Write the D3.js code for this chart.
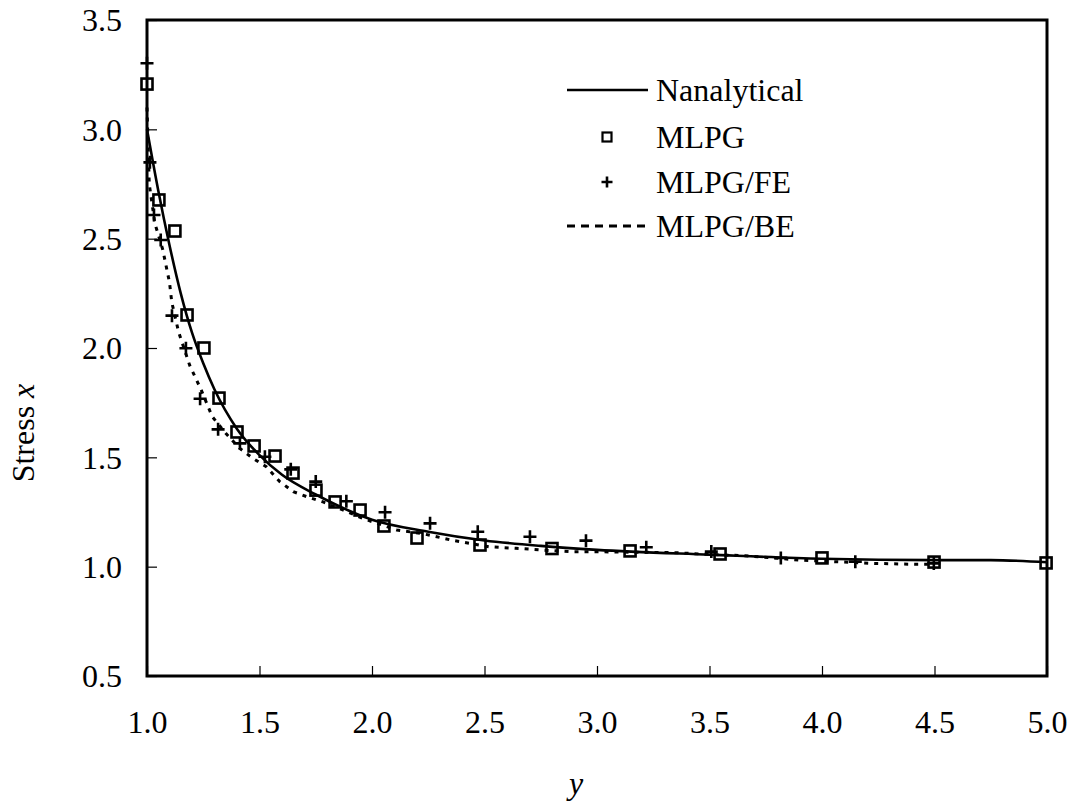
<!DOCTYPE html>
<html><head><meta charset="utf-8">
<script src="https://cdnjs.cloudflare.com/ajax/libs/d3/7.8.5/d3.min.js"></script>
<style>body{margin:0;background:#fff}svg{display:block}text{font-family:"Liberation Serif","Times New Roman",serif;fill:#000}</style>
</head><body><svg id="c" width="1074" height="807"></svg>
<script>
// ---- data ----
const xTicks = [1.0, 1.5, 2.0, 2.5, 3.0, 3.5, 4.0, 4.5, 5.0];
const yTicks = [0.5, 1.0, 1.5, 2.0, 2.5, 3.0, 3.5];

const analyticalX = [1.0, 1.05, 1.1, 1.15, 1.2, 1.25, 1.3, 1.4, 1.5, 1.6, 1.75, 2.0, 2.25, 2.5, 2.75, 3.0, 3.5, 4.0, 4.5, 4.75, 5.0];
const analyticalY = [3.0, 2.72, 2.47, 2.25, 2.07, 1.93, 1.81, 1.63, 1.51, 1.42, 1.33, 1.215, 1.16, 1.12, 1.095, 1.077, 1.055, 1.036, 1.03, 1.03, 1.02];

const mlpgX = [1.0, 1.053, 1.124, 1.178, 1.253, 1.32, 1.40, 1.476, 1.569, 1.649, 1.751, 1.836, 1.947, 2.053, 2.2, 2.48, 2.8, 3.147, 3.547, 4.0, 4.498, 4.996];
const mlpgY = [3.207, 2.677, 2.535, 2.151, 2.0, 1.771, 1.616, 1.552, 1.506, 1.428, 1.35, 1.296, 1.259, 1.186, 1.131, 1.099, 1.083, 1.072, 1.058, 1.040, 1.021, 1.017];

const feX = [1.0, 1.013, 1.031, 1.061, 1.111, 1.173, 1.236, 1.316, 1.413, 1.524, 1.639, 1.75, 1.886, 2.058, 2.258, 2.47, 2.702, 2.951, 3.219, 3.508, 3.817, 4.148, 4.497];
const feY = [3.302, 2.849, 2.608, 2.494, 2.148, 1.999, 1.768, 1.628, 1.564, 1.503, 1.445, 1.389, 1.299, 1.249, 1.198, 1.160, 1.137, 1.119, 1.089, 1.069, 1.040, 1.023, 1.015];

const beX = [1.0, 1.01, 1.035, 1.07, 1.10, 1.11, 1.14, 1.19, 1.24, 1.29, 1.35, 1.41, 1.47, 1.53, 1.59, 1.65, 1.71, 1.78, 1.87, 1.96, 2.11, 2.23, 2.36, 2.52, 2.64, 2.76, 2.89, 3.01, 3.35, 3.46, 3.65, 3.76, 3.90, 4.05, 4.23, 4.41, 4.50];
const beY = [3.10, 2.75, 2.57, 2.45, 2.30, 2.21, 2.075, 1.92, 1.81, 1.686, 1.61, 1.543, 1.496, 1.457, 1.389, 1.343, 1.32, 1.297, 1.26, 1.22, 1.168, 1.15, 1.12, 1.091, 1.084, 1.076, 1.068, 1.068, 1.064, 1.058, 1.05, 1.042, 1.03, 1.023, 1.015, 1.011, 1.011];

const legendLabels = ["Nanalytical", "MLPG", "MLPG/FE", "MLPG/BE"];

// ---- layout ----
const L = 147, R = 1047, T = 20, B = 676;
const FS = 32;
const svg = d3.select("#c");
const x = d3.scaleLinear().domain([1, 5]).range([L, R]);
const y = d3.scaleLinear().domain([0.5, 3.5]).range([B, T]);

const zip = (a, b) => a.map((v, i) => [v, b[i]]);

// axes (ticks inside)
const yAxis = d3.axisLeft(y).tickValues(yTicks).tickSizeInner(-10).tickSizeOuter(0).tickPadding(25).tickFormat(d3.format(".1f"));
const xAxis = d3.axisBottom(x).tickValues(xTicks).tickSizeInner(-10).tickSizeOuter(0).tickPadding(34).tickFormat(d3.format(".1f"));
const gy = svg.append("g").attr("transform", `translate(${L},0)`).call(yAxis);
const gx = svg.append("g").attr("transform", `translate(0,${B})`).call(xAxis);
[gy, gx].forEach(g => {
  g.attr("font-family", "Liberation Serif");
  g.select(".domain").remove();
  g.selectAll(".tick line").attr("stroke", "#000").attr("stroke-width", 1.2);
  g.selectAll(".tick text").attr("font-size", FS).attr("font-family", "Liberation Serif");
});
gy.selectAll(".tick text").attr("dy", "0.34em");

// frame
svg.append("rect").attr("x", L).attr("y", T).attr("width", R - L).attr("height", B - T)
  .attr("fill", "none").attr("stroke", "#000").attr("stroke-width", 3);

const line = d3.line().x(d => x(d[0])).y(d => y(d[1]));

// analytical (solid)
svg.append("path").datum(zip(analyticalX, analyticalY)).attr("d", line.curve(d3.curveMonotoneX))
  .attr("fill", "none").attr("stroke", "#000").attr("stroke-width", 2.6);

// MLPG/BE dashed
svg.append("path").datum(zip(beX, beY)).attr("d", d3.line().x(d => x(d[0])).y(d => y(d[1])).curve(d3.curveLinear))
  .attr("fill", "none").attr("stroke", "#000").attr("stroke-width", 3).attr("stroke-dasharray", "4,6");

// MLPG squares
const SQ = 11;
svg.append("g").selectAll("rect").data(zip(mlpgX, mlpgY)).join("rect")
  .attr("x", d => x(d[0]) - SQ / 2).attr("y", d => y(d[1]) - SQ / 2)
  .attr("width", SQ).attr("height", SQ)
  .attr("fill", "none").attr("stroke", "#000").attr("stroke-width", 2.6);

// MLPG/FE pluses
const PL = 6.5;
svg.append("g").selectAll("path").data(zip(feX, feY)).join("path")
  .attr("d", d => { const cx = x(d[0]), cy = y(d[1]); return `M${cx - PL},${cy}H${cx + PL}M${cx},${cy - PL}V${cy + PL}`; })
  .attr("fill", "none").attr("stroke", "#000").attr("stroke-width", 2.6);

// legend
const lg = svg.append("g");
const lx0 = 567, lx1 = 648, tx = 656;
const ly = [90, 137, 182, 226];
lg.append("line").attr("x1", lx0).attr("x2", lx1).attr("y1", ly[0]).attr("y2", ly[0]).attr("stroke", "#000").attr("stroke-width", 2.6);
lg.append("rect").attr("x", 607 - 4.5).attr("y", ly[1] - 4.5).attr("width", 9).attr("height", 9).attr("fill", "none").attr("stroke", "#000").attr("stroke-width", 2.2);
lg.append("path").attr("d", `M${607 - 5.5},${ly[2]}H${607 + 5.5}M607,${ly[2] - 5.5}V${ly[2] + 5.5}`).attr("stroke", "#000").attr("stroke-width", 2.6);
lg.append("line").attr("x1", lx0).attr("x2", lx1).attr("y1", ly[3]).attr("y2", ly[3]).attr("stroke", "#000").attr("stroke-width", 3).attr("stroke-dasharray", "8,6");
lg.selectAll("text").data(legendLabels).join("text")
  .attr("x", tx).attr("y", (d, i) => ly[i]).attr("dy", "0.35em").attr("font-size", FS).text(d => d);

// axis titles
svg.append("text").attr("transform", "translate(34,433) rotate(-90)").attr("text-anchor", "middle")
  .attr("font-size", FS).html('Stress <tspan font-style="italic">x</tspan>');
svg.append("text").attr("x", 576).attr("y", 794).attr("text-anchor", "middle")
  .attr("font-size", FS).attr("font-style", "italic").text("y");
</script></body></html>
